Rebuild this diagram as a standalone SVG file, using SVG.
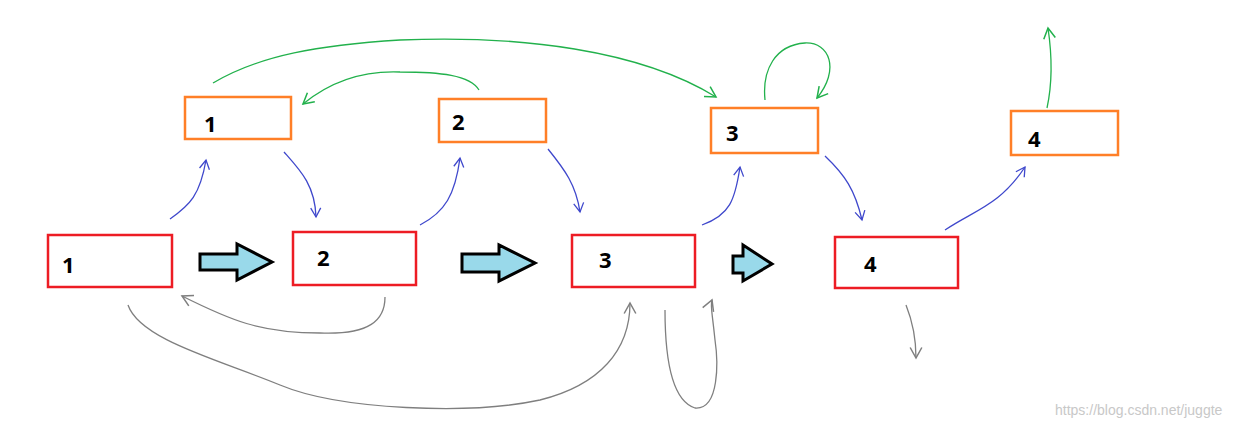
<svg xmlns="http://www.w3.org/2000/svg" width="1249" height="426" viewBox="0 0 1249 426">
<style>
.red{fill:#fff;stroke:#ed1c24;stroke-width:2.5}
.org{fill:#fff;stroke:#ff7f27;stroke-width:2.5}
.lbl{font-family:"Open Sans","Liberation Sans",sans-serif;font-weight:bold;font-size:22px;fill:#000}
.blk{fill:#99d9ea;stroke:#000;stroke-width:3}
.b{fill:none;stroke:#3f48cc;stroke-width:1.3;marker-end:url(#mb)}
.g{fill:none;stroke:#22b14c;stroke-width:1.3;marker-end:url(#mg)}
.y{fill:none;stroke:#7f7f7f;stroke-width:1.3;marker-end:url(#my)}
</style>
<defs>
<marker id="mb" viewBox="0 0 12 12" refX="10" refY="6" markerWidth="12" markerHeight="12" markerUnits="userSpaceOnUse" orient="auto"><path d="M1,1 L10,6 L1,11" fill="none" stroke="#3f48cc" stroke-width="1.3"/></marker>
<marker id="mg" viewBox="0 0 12 12" refX="10" refY="6" markerWidth="14" markerHeight="14" markerUnits="userSpaceOnUse" orient="auto"><path d="M1,1 L10,6 L1,11" fill="none" stroke="#22b14c" stroke-width="1.3"/></marker>
<marker id="my" viewBox="0 0 12 12" refX="10" refY="6" markerWidth="14" markerHeight="14" markerUnits="userSpaceOnUse" orient="auto"><path d="M1,1 L10,6 L1,11" fill="none" stroke="#7f7f7f" stroke-width="1.3"/></marker>
</defs>
<rect width="1249" height="426" fill="#fff"/>
<g id="r1"><rect class="red" x="48" y="235" width="124" height="52"/><text class="lbl" x="62" y="273">1</text></g>
<g id="r2"><rect class="red" x="293" y="232" width="123" height="53"/><text class="lbl" x="317" y="266">2</text></g>
<g id="r3"><rect class="red" x="572" y="235" width="123" height="52"/><text class="lbl" x="599" y="268">3</text></g>
<g id="r4"><rect class="red" x="835" y="237" width="123" height="51"/><text class="lbl" x="864" y="272">4</text></g>
<g id="o1"><rect class="org" x="185" y="97" width="106" height="42"/><text class="lbl" x="204" y="132">1</text></g>
<g id="o2"><rect class="org" x="439" y="99" width="107" height="43"/><text class="lbl" x="452" y="130">2</text></g>
<g id="o3"><rect class="org" x="711" y="108" width="107" height="45"/><text class="lbl" x="726" y="141">3</text></g>
<g id="o4"><rect class="org" x="1011" y="111" width="107" height="44"/><text class="lbl" x="1028" y="147">4</text></g>
<g id="ba1"><path class="blk" d="M200,254 H237 V244 L272,262 L237,280 V270 H200 Z"/></g>
<g id="ba2"><path class="blk" d="M462,254 H499 V245 L535,263 L499,281 V272 H462 Z"/></g>
<g id="ba3"><path class="blk" d="M733,256 H743 V245 L772,264 L743,281 V273 H733 Z" transform="translate(0,0)"/></g>
<g id="connectors">
<path class="b" d="M170,219 C190,205 200,195 206,160"/>
<path class="b" d="M284,152 C300,170 315,185 316,217"/>
<path class="b" d="M420,225 C445,212 455,195 460,158"/>
<path class="b" d="M548,149 C565,170 576,185 580,212"/>
<path class="b" d="M702,225 C730,215 735,200 740,167"/>
<path class="b" d="M825,156 C845,175 855,190 862,220"/>
<path class="b" d="M945,230 C975,210 1000,205 1025,167"/>
<path class="g" d="M213,83 C260,55 320,45 400,40 C520,35 640,50 716,97"/>
<path class="g" d="M479,90 C470,75 440,72 400,72 C350,70 320,90 303,104"/>
<path class="g" d="M765,100 C762,70 775,45 805,43 C830,42 840,70 817,98"/>
<path class="g" d="M1047,108 C1052,85 1052,55 1048,28"/>
<path class="y" d="M385,297 C385,320 370,335 320,333 C260,333 230,320 182,296"/>
<path class="y" d="M128,305 C140,340 220,360 280,385 C340,410 470,415 540,400 C600,385 630,350 630,303"/>
<path class="y" d="M665,310 C665,350 670,400 695,408 C720,410 718,360 715,340 C712,310 710,305 712,300"/>
<path class="y" d="M906,305 C914,325 916,340 916,358"/>
</g>
<text x="1055" y="415" font-family="Liberation Sans,sans-serif" font-size="14" fill="#c8c8c8">https://blog.csdn.net/juggte</text>
</svg>
